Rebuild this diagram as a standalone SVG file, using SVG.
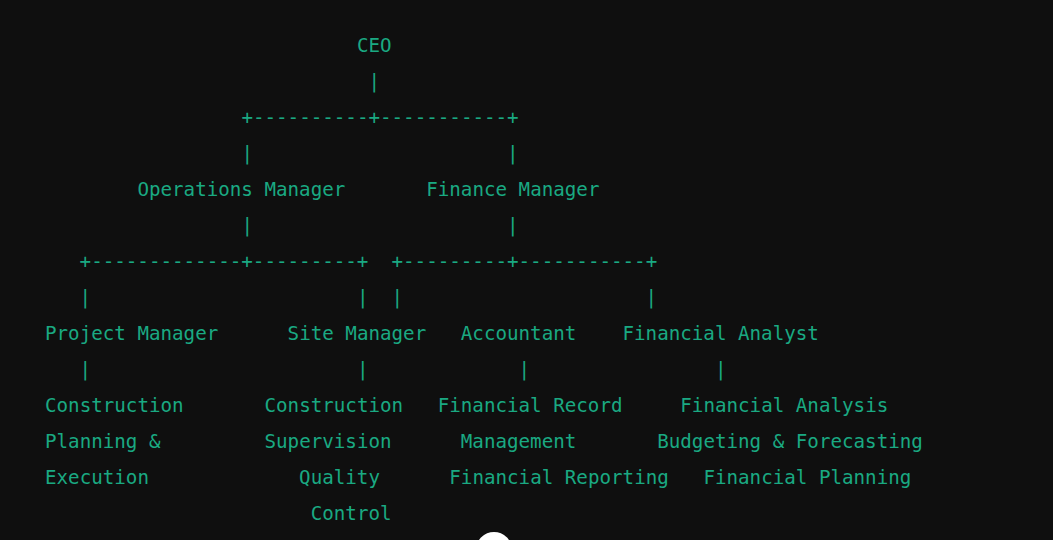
<svg xmlns="http://www.w3.org/2000/svg" width="1053" height="540" viewBox="0 0 1053 540">
<style>
text{font-family:"DejaVu Sans Mono","Liberation Mono",monospace;font-size:19.2px;fill:#1aa982;white-space:pre}
</style>
<rect width="1053" height="540" fill="#0f0f0f"/>
<g id="connectors" xml:space="preserve">
<text x="368.4" y="88">|</text>
<text x="241.4" y="124">+----------+-----------+</text>
<text x="241.4" y="160">|</text><text x="507" y="160">|</text>
<text x="241.4" y="232">|</text><text x="507" y="232">|</text>
<text x="79.6" y="268">+-------------+---------+  +---------+-----------+</text>
<text x="79.6" y="304">|</text><text x="356.9" y="304">|</text><text x="391.5" y="304">|</text><text x="645.6" y="304">|</text>
<text x="79.6" y="376">|</text><text x="356.9" y="376">|</text><text x="518.6" y="376">|</text><text x="714.9" y="376">|</text>
</g>
<g id="ceo"><text x="356.9" y="52">CEO</text></g>
<g id="operations-manager"><text x="137.4" y="196">Operations Manager</text></g>
<g id="finance-manager"><text x="426.2" y="196">Finance Manager</text></g>
<g id="project-manager"><text x="45" y="340">Project Manager</text>
<text x="45" y="412">Construction</text><text x="45" y="448">Planning &amp;</text><text x="45" y="484">Execution</text></g>
<g id="site-manager"><text x="287.6" y="340">Site Manager</text>
<text x="264.5" y="412">Construction</text><text x="264.5" y="448">Supervision</text><text x="299.1" y="484">Quality</text><text x="310.7" y="520">Control</text></g>
<g id="accountant"><text x="460.8" y="340">Accountant</text>
<text x="437.7" y="412">Financial Record</text><text x="460.8" y="448">Management</text><text x="449.3" y="484">Financial Reporting</text></g>
<g id="financial-analyst"><text x="622.5" y="340">Financial Analyst</text>
<text x="680.3" y="412">Financial Analysis</text><text x="657.2" y="448">Budgeting &amp; Forecasting</text><text x="703.4" y="484">Financial Planning</text></g>
<circle cx="494" cy="550" r="18" fill="#ffffff"/>
</svg>
